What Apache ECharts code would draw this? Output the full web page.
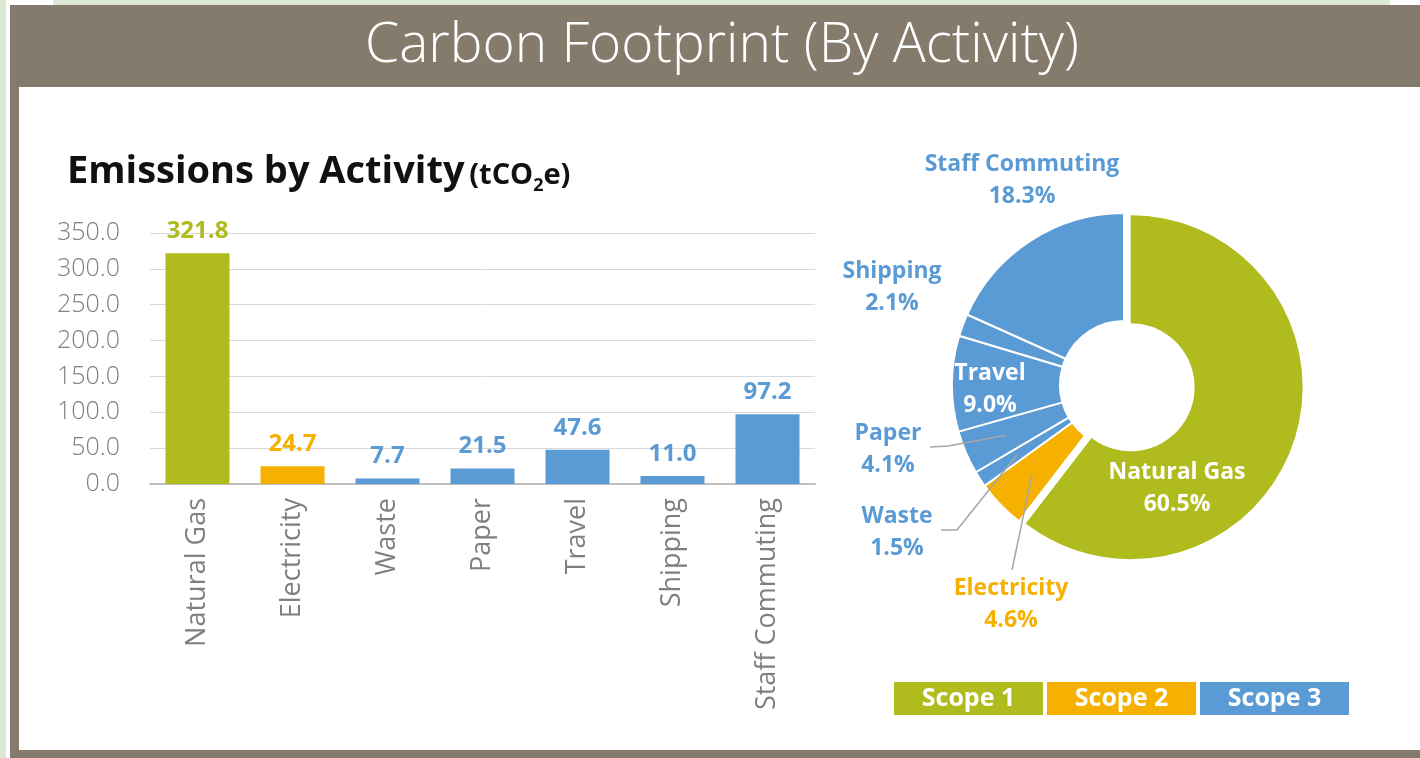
<!DOCTYPE html>
<html>
<head>
<meta charset="utf-8">
<title>Carbon Footprint (By Activity)</title>
<script src="https://cdn.jsdelivr.net/npm/echarts@6/dist/echarts.min.js"></script>
<style>
  html, body { margin: 0; padding: 0; }
  body { width: 1420px; height: 758px; background: #dcead5; position: relative; overflow: hidden; }
  .strip { position: absolute; background: #fff; }
  .frame { position: absolute; left: 10px; top: 5px; right: 0; bottom: 0; background: #857b6d; }
  .inner { position: absolute; left: 19px; top: 87px; right: 0; bottom: 8px; background: #fff; }
  #chart { position: absolute; left: 0; top: 0; width: 1420px; height: 758px; }
</style>
</head>
<body>
  <div class="strip" style="left:6px;top:0;width:4px;height:758px"></div>
  <div class="strip" style="left:6px;top:0;width:47px;height:5px"></div>
  <div class="strip" style="left:1390px;top:0;width:30px;height:5px"></div>
  <div class="frame"></div>
  <div class="inner"></div>
  <div id="chart"></div>
<script>
// data
const categories = ['Natural Gas', 'Electricity', 'Waste', 'Paper', 'Travel', 'Shipping', 'Staff Commuting']
const emissions = [321.8, 24.7, 7.7, 21.5, 47.6, 11.0, 97.2]
const scopeOf = [0, 1, 2, 2, 2, 2, 2] // index into scopeNames
const shares = [60.5, 4.6, 1.5, 4.1, 9.0, 2.1, 18.3] // % labels of the doughnut
const scopeNames = ['Scope 1', 'Scope 2', 'Scope 3']
const scopeColors = ['#b0bb1e', '#f5b000', '#5b9bd5']

const font = 'Open Sans'
const axisGrey = '#7f7f7f'
const leaderGrey = '#a6a6a6'

// doughnut geometry
const pieCenter = [1124, 385]
const pieRadius = [64, 172]
const explodeIndex = 0 // Natural Gas slice pulled out
const explodeBy = 7

// where each doughnut label sits (layout only)
const pieLabelSpots = [
  { x: 1177, y: 488, inside: true },
  { x: 1011, y: 604, line: [[1012, 570]] },
  { x: 897, y: 532, line: [[957, 530], [941, 530]] },
  { x: 888, y: 449, line: [[948, 446], [930, 447]] },
  { x: 990, y: 389, inside: true },
  { x: 892, y: 287 },
  { x: 1022, y: 180 }
]

// middle angle of a slice (radians, clockwise from 12 o'clock)
function midAngle (i) {
  const total = shares.reduce((a, b) => a + b, 0)
  let before = 0
  for (let k = 0; k < i; k++) before += shares[k]
  return (before + shares[i] / 2) / total * Math.PI * 2
}

function sliceAnchor (i, r) {
  const ang = midAngle(i)
  return [pieCenter[0] + r * Math.sin(ang), pieCenter[1] - r * Math.cos(ang)]
}

const chart = echarts.init(document.getElementById('chart'))

const barData = emissions.map((v, i) => ({
  value: v,
  itemStyle: { color: scopeColors[scopeOf[i]] },
  label: { color: scopeColors[scopeOf[i]] }
}))

const hidden = { color: 'transparent', borderColor: 'transparent', borderWidth: 0 }

// main ring: every slice except the pulled-out one (which only keeps its label)
const pieData = shares.map((v, i) => {
  const spot = pieLabelSpots[i]
  return {
    name: categories[i],
    value: v,
    itemStyle: i === explodeIndex ? hidden : { color: scopeColors[scopeOf[i]] },
    label: {
      position: spot.inside ? 'inner' : 'outside',
      color: spot.inside ? '#fff' : scopeColors[scopeOf[i]]
    }
  }
})

// pulled-out slice, drawn on its own ring shifted along its middle angle
const explodedData = shares.map((v, i) => ({
  name: categories[i],
  value: v,
  itemStyle: i === explodeIndex ? { color: scopeColors[scopeOf[i]] } : hidden
}))
const explodeAng = midAngle(explodeIndex)
const explodedCenter = [
  pieCenter[0] + explodeBy * Math.sin(explodeAng),
  pieCenter[1] - explodeBy * Math.cos(explodeAng)
]

const graphics = [
  {
    type: 'text',
    x: 722,
    y: 46,
    style: {
      text: 'Carbon Footprint (By Activity)',
      fill: '#fff',
      font: '300 55px "' + font + '"',
      align: 'center',
      verticalAlign: 'middle'
    },
    silent: true
  }
]

// leader lines for the small slices, on top of the ring
pieLabelSpots.forEach((spot, i) => {
  if (!spot.line) return
  graphics.push({
    type: 'polyline',
    z: 100,
    shape: { points: [sliceAnchor(i, 128)].concat(spot.line) },
    style: { stroke: leaderGrey, lineWidth: 1.5, fill: null },
    silent: true
  })
})

// legend boxes
scopeNames.forEach((name, i) => {
  const left = 894 + i * 153
  graphics.push({
    type: 'rect',
    left: left,
    top: 682,
    shape: { width: 149, height: 33 },
    style: { fill: scopeColors[i] },
    silent: true
  })
  graphics.push({
    type: 'text',
    x: left + 74.5,
    y: 699,
    style: {
      text: name,
      fill: '#fff',
      font: 'bold 25px "' + font + '"',
      align: 'center',
      verticalAlign: 'middle'
    },
    silent: true
  })
})

const pieLabel = {
  show: true,
  fontSize: 23,
  fontWeight: 'bold',
  fontFamily: font,
  lineHeight: 32,
  align: 'center',
  overflow: 'none',
  formatter: p => p.name + '\n' + p.value.toFixed(1) + '%'
}

const option = {
  animation: false,
  textStyle: { fontFamily: font },
  title: {
    text: '{a|Emissions by Activity} {b|(tCO}{s|2}{b|e)}',
    left: 62,
    top: 148,
    textStyle: {
      rich: {
        a: { fontSize: 38, fontWeight: 'bold', color: '#111', fontFamily: font, verticalAlign: 'bottom' },
        b: { fontSize: 29, fontWeight: 'bold', color: '#111', fontFamily: font, verticalAlign: 'bottom', padding: [0, 0, 1, 0] },
        s: { fontSize: 18, fontWeight: 'bold', color: '#111', fontFamily: font, verticalAlign: 'bottom', padding: [0, 0, -4, 0] }
      }
    }
  },
  grid: { left: 150, right: 605, top: 233, bottom: 274 },
  xAxis: {
    type: 'category',
    data: categories,
    axisTick: { show: false },
    axisLine: { lineStyle: { color: '#bfbfbf', width: 2 } },
    axisLabel: { rotate: 90, margin: 14, fontSize: 27, color: axisGrey, fontFamily: font }
  },
  yAxis: {
    type: 'value',
    min: 0,
    max: 350,
    interval: 50,
    axisLine: { show: false },
    axisTick: { show: false },
    splitLine: { lineStyle: { color: '#d9d9d9', width: 1 } },
    axisLabel: {
      margin: 30,
      fontSize: 25,
      fontWeight: 300,
      color: axisGrey,
      fontFamily: font,
      formatter: v => v.toFixed(1)
    }
  },
  series: [
    {
      type: 'bar',
      data: barData,
      barWidth: 64,
      silent: true,
      label: {
        show: true,
        position: 'top',
        distance: 10,
        fontSize: 24,
        fontWeight: 'bold',
        fontFamily: font,
        formatter: p => p.value.toFixed(1)
      }
    },
    {
      type: 'pie',
      center: explodedCenter,
      radius: pieRadius,
      startAngle: 90,
      clockwise: true,
      silent: true,
      label: { show: false },
      labelLine: { show: false },
      data: explodedData
    },
    {
      type: 'pie',
      center: pieCenter,
      radius: pieRadius,
      startAngle: 90,
      clockwise: true,
      silent: true,
      avoidLabelOverlap: false,
      itemStyle: { borderColor: '#fff', borderWidth: 2 },
      label: pieLabel,
      labelLine: { show: false },
      labelLayout: params => {
        const spot = pieLabelSpots[params.dataIndex]
        return { x: spot.x, y: spot.y, align: 'center', verticalAlign: 'middle' }
      },
      data: pieData
    }
  ],
  graphic: graphics
}

chart.setOption(option)
</script>
</body>
</html>
